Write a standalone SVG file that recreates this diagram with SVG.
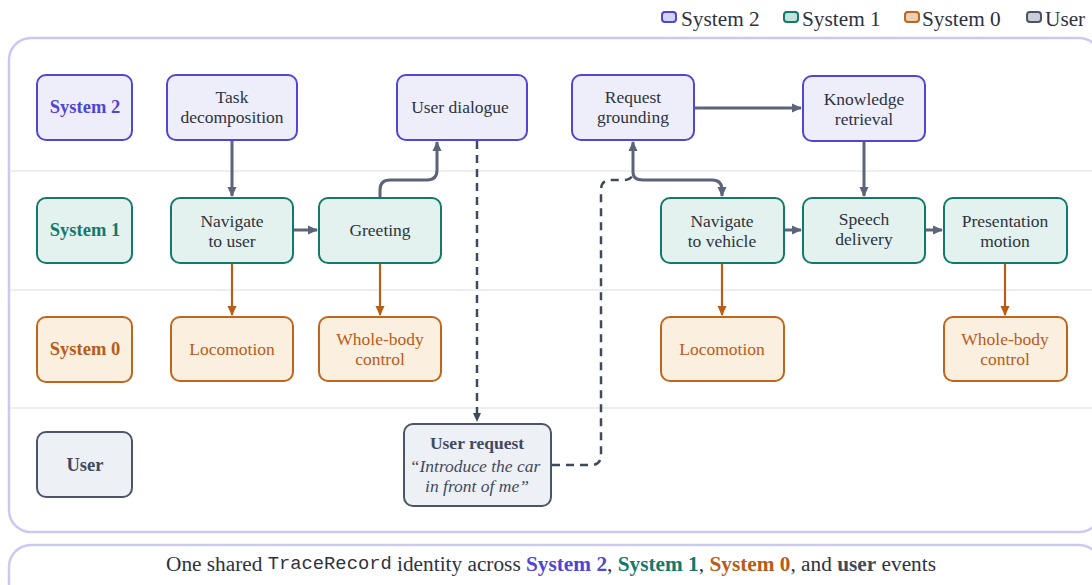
<svg xmlns="http://www.w3.org/2000/svg" width="1092" height="585" viewBox="0 0 1092 585">
  <defs>
    <marker id="ah-gray" viewBox="0 0 10 10" refX="9" refY="5" markerWidth="10" markerHeight="10" markerUnits="userSpaceOnUse" orient="auto">
      <path d="M0,0.5 L10,5 L0,9.5 Z" fill="#5b6479"/>
    </marker>
    <marker id="ah-dark" viewBox="0 0 10 10" refX="9" refY="5" markerWidth="9" markerHeight="9" markerUnits="userSpaceOnUse" orient="auto">
      <path d="M0,0.5 L10,5 L0,9.5 Z" fill="#3f4a5e"/>
    </marker>
    <marker id="ah-orange" viewBox="0 0 10 10" refX="9" refY="5" markerWidth="10" markerHeight="10" markerUnits="userSpaceOnUse" orient="auto">
      <path d="M0,0.5 L10,5 L0,9.5 Z" fill="#b85c18"/>
    </marker>
    <style>
      text { font-family: 'Liberation Serif', 'DejaVu Serif', serif; font-size: 17.5px; fill: #2d3340; text-anchor: middle; dominant-baseline: central; }
      .s2 rect { fill: #eeeefa; stroke: #5046d3; stroke-width: 2; }
      .s1 rect { fill: #e3f2ee; stroke: #137a6b; stroke-width: 2; }
      .s0 rect { fill: #fbefe0; stroke: #c0651c; stroke-width: 2; }
      .us rect { fill: #edf0f5; stroke: #4a5568; stroke-width: 2; }
      .s0 text { fill: #b85c18; }
      .lab text { font-weight: bold; font-size: 18.5px; }
      .s2.lab text { fill: #4f46d3; }
      .s1.lab text { fill: #137a6b; }
      .us text { fill: #3f4a5e; }
      .lane { stroke: #e6e8f0; stroke-width: 1.5; }
      .e { fill: none; stroke: #5b6479; stroke-width: 3; }
      .eo { fill: none; stroke: #b85c18; stroke-width: 2.2; }
      .ed { fill: none; stroke: #3f4a5e; stroke-width: 2.5; stroke-dasharray: 8 6; }
      .legend text { font-size: 21.3px; text-anchor: start; fill: #2d3340; }
      .foot text { font-size: 21.3px; }
      .mono { font-family: 'Liberation Mono', 'DejaVu Sans Mono', monospace; font-size: 18.8px; }
    </style>
  </defs>

  <rect width="1092" height="585" fill="#ffffff"/>

  <!-- legend -->
  <g id="legend" class="legend">
    <rect x="662" y="12" width="14" height="10" rx="3" fill="#d4d2f6" stroke="#5046d3" stroke-width="2"/>
    <text x="681" y="19">System 2</text>
    <rect x="784" y="12" width="14" height="10" rx="3" fill="#c3e3da" stroke="#137a6b" stroke-width="2"/>
    <text x="802" y="19">System 1</text>
    <rect x="905" y="12" width="14" height="10" rx="3" fill="#ecd0b4" stroke="#c0651c" stroke-width="2"/>
    <text x="922" y="19">System 0</text>
    <rect x="1027" y="12" width="14" height="10" rx="3" fill="#c9ced8" stroke="#4a5568" stroke-width="2"/>
    <text x="1045" y="19">User</text>
  </g>

  <!-- main panel and swimlane separators -->
  <rect x="9" y="38" width="1092" height="494" rx="22" fill="#ffffff" stroke="#cbc9f2" stroke-width="2.5"/>
  <line class="lane" x1="10" y1="171" x2="1092" y2="171"/>
  <line class="lane" x1="10" y1="290" x2="1092" y2="290"/>
  <line class="lane" x1="10" y1="408" x2="1092" y2="408"/>

  <!-- connectors -->
  <g id="connectors">
    <path class="e" d="M232,141 V196" marker-end="url(#ah-gray)"/>
    <path class="e" d="M294,230 H317" marker-end="url(#ah-gray)"/>
    <path class="e" d="M380,197 V190 Q380,180 390,180 H427 Q437,180 437,170 V142" marker-end="url(#ah-gray)"/>
    <path class="ed" d="M477,141 V421" marker-end="url(#ah-dark)"/>
    <path class="ed" d="M552,465 H591 Q601,465 601,455 V190 Q601,180 611,180 H623 Q633,180 633,172"/>
    <path class="e" d="M633,172 V142" marker-end="url(#ah-gray)"/>
    <path class="e" d="M633,172 Q633,180 643,180 H712 Q722,180 722,190 V196" marker-end="url(#ah-gray)"/>
    <path class="e" d="M695,108 H801" marker-end="url(#ah-gray)"/>
    <path class="e" d="M864,142 V196" marker-end="url(#ah-gray)"/>
    <path class="e" d="M785,230 H801" marker-end="url(#ah-gray)"/>
    <path class="e" d="M926,230 H942" marker-end="url(#ah-gray)"/>
    <path class="eo" d="M232,264 V315" marker-end="url(#ah-orange)"/>
    <path class="eo" d="M380,264 V315" marker-end="url(#ah-orange)"/>
    <path class="eo" d="M722,264 V315" marker-end="url(#ah-orange)"/>
    <path class="eo" d="M1005,264 V315" marker-end="url(#ah-orange)"/>
  </g>

  <!-- lane labels -->
  <g id="lane-s2" class="s2 lab"><rect x="37" y="75" width="95" height="65" rx="9"/><text x="85" y="107">System 2</text></g>
  <g id="lane-s1" class="s1 lab"><rect x="37" y="198" width="95" height="65" rx="9"/><text x="85" y="230">System 1</text></g>
  <g id="lane-s0" class="s0 lab"><rect x="37" y="317" width="95" height="65" rx="9"/><text x="85" y="349">System 0</text></g>
  <g id="lane-user" class="us lab"><rect x="37" y="432" width="95" height="65" rx="9"/><text x="85" y="465">User</text></g>

  <!-- System 2 nodes -->
  <g id="task-decomposition" class="s2"><rect x="167" y="75" width="130" height="65" rx="9"/><text x="232" y="97">Task</text><text x="232" y="117">decomposition</text></g>
  <g id="user-dialogue" class="s2"><rect x="397" y="75" width="130" height="65" rx="9"/><text x="460" y="107">User dialogue</text></g>
  <g id="request-grounding" class="s2"><rect x="572" y="75" width="122" height="65" rx="9"/><text x="633" y="97">Request</text><text x="633" y="117">grounding</text></g>
  <g id="knowledge-retrieval" class="s2"><rect x="803" y="76" width="122" height="65" rx="9"/><text x="864" y="99">Knowledge</text><text x="864" y="119">retrieval</text></g>

  <!-- System 1 nodes -->
  <g id="navigate-to-user" class="s1"><rect x="171" y="198" width="122" height="65" rx="9"/><text x="232" y="221">Navigate</text><text x="232" y="241">to user</text></g>
  <g id="greeting" class="s1"><rect x="319" y="198" width="122" height="65" rx="9"/><text x="380" y="230">Greeting</text></g>
  <g id="navigate-to-vehicle" class="s1"><rect x="661" y="198" width="123" height="65" rx="9"/><text x="722" y="221">Navigate</text><text x="722" y="241">to vehicle</text></g>
  <g id="speech-delivery" class="s1"><rect x="803" y="198" width="122" height="65" rx="9"/><text x="864" y="219">Speech</text><text x="864" y="239">delivery</text></g>
  <g id="presentation-motion" class="s1"><rect x="944" y="198" width="123" height="65" rx="9"/><text x="1005" y="221">Presentation</text><text x="1005" y="241">motion</text></g>

  <!-- System 0 nodes -->
  <g id="locomotion-1" class="s0"><rect x="171" y="317" width="122" height="64" rx="9"/><text x="232" y="349">Locomotion</text></g>
  <g id="whole-body-1" class="s0"><rect x="319" y="317" width="122" height="64" rx="9"/><text x="380" y="339">Whole-body</text><text x="380" y="359">control</text></g>
  <g id="locomotion-2" class="s0"><rect x="661" y="317" width="123" height="64" rx="9"/><text x="722" y="349">Locomotion</text></g>
  <g id="whole-body-2" class="s0"><rect x="944" y="317" width="123" height="64" rx="9"/><text x="1005" y="339">Whole-body</text><text x="1005" y="359">control</text></g>

  <!-- user event -->
  <g id="user-request" class="us">
    <rect x="404" y="424" width="147" height="82" rx="9"/>
    <text x="477" y="443" font-weight="bold" font-size="18px">User request</text>
    <text x="475" y="466" font-style="italic" font-size="16.5px">“Introduce the car</text>
    <text x="477" y="486" font-style="italic" font-size="16.5px">in front of me”</text>
  </g>

  <!-- footer -->
  <g id="footer" class="foot">
    <rect x="9" y="545" width="1092" height="60" rx="22" fill="#ffffff" stroke="#cbc9f2" stroke-width="2.5"/>
    <text x="551" y="564">One shared <tspan class="mono">TraceRecord</tspan> identity across <tspan font-weight="bold" fill="#4f46d3">System 2</tspan>, <tspan font-weight="bold" fill="#137a6b">System 1</tspan>, <tspan font-weight="bold" fill="#b85c18">System 0</tspan>, and <tspan font-weight="bold" fill="#3f4a5e">user</tspan> events</text>
  </g>
</svg>
